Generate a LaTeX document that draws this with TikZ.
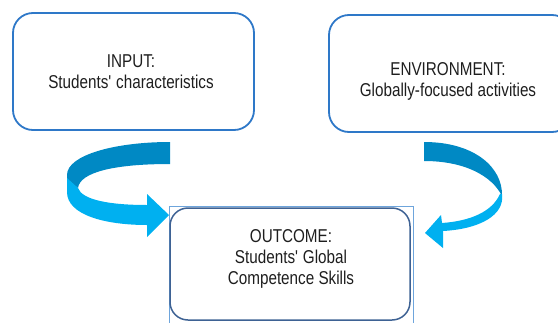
\documentclass[tikz,border=0pt]{standalone}
\usepackage{fontspec}
\setmainfont{Liberation Sans}[FakeStretch=0.82]
\definecolor{boxblue}{RGB}{46,120,200}
\definecolor{outblue}{RGB}{62,98,148}
\definecolor{thinblue}{RGB}{110,165,220}
\definecolor{arrdark}{RGB}{0,137,196}
\definecolor{arrlight}{RGB}{0,176,240}
\definecolor{txtgray}{RGB}{30,30,30}
\begin{document}
\begin{tikzpicture}[x=1pt,y=-1pt,
	box/.style={draw=boxblue, line width=1.8pt, rounded corners=20pt},
	lbl/.style={align=center, text=txtgray, font=\fontsize{18.6}{21}\selectfont}]
		\useasboundingbox (0,0) rectangle (558,322);
		
		\node[box, minimum width=241pt, minimum height=117pt] (input) at (133.5,71.5) {};
		\node[box, minimum width=243pt, minimum height=117pt] (env) at (450.5,73.5) {};
		\draw[thinblue, line width=0.8pt] (169,206) rectangle (413,330);
		\node[box, draw=outblue, line width=1.5pt, rounded corners=18pt, minimum width=240pt, minimum height=112pt] (outcome) at (290,264) {};
		
		\node[lbl] (inputtxt) at (131,72) {INPUT:\\Students\textquotesingle{} characteristics};
		\node[lbl] (envtxt) at (448,81) {ENVIRONMENT:\\Globally-focused activities};
		\node[lbl] (outtxt) at (291,258.5) {OUTCOME:\\Students\textquotesingle{} Global\\Competence Skills};
		
		\fill[arrdark] (170,142) .. controls (115,142) and (67,155) .. (67,175) -- (67,179) -- (78,188) .. controls (80,172) and (115,164) .. (170,164) -- cycle;
		\fill[arrlight] (67,178) -- (67,192) .. controls (67,215) and (105,225) .. (147,225) -- (147,237) -- (169,215) -- (147,194) -- (147,205) .. controls (110,205) and (82,200) .. (78,188) -- cycle;
		
		\fill[arrdark] (424,142) .. controls (475,142) and (503,168) .. (502,196) .. controls (492,176) and (465,161) .. (424,161) -- cycle;
		\fill[arrlight] (502,194) .. controls (505,215) and (480,229) .. (443,231) -- (443,248) -- (425,233) -- (441,215) -- (442,223) .. controls (470,221) and (492,212) .. (500,194) -- cycle;
	\end{tikzpicture}
\end{document}
